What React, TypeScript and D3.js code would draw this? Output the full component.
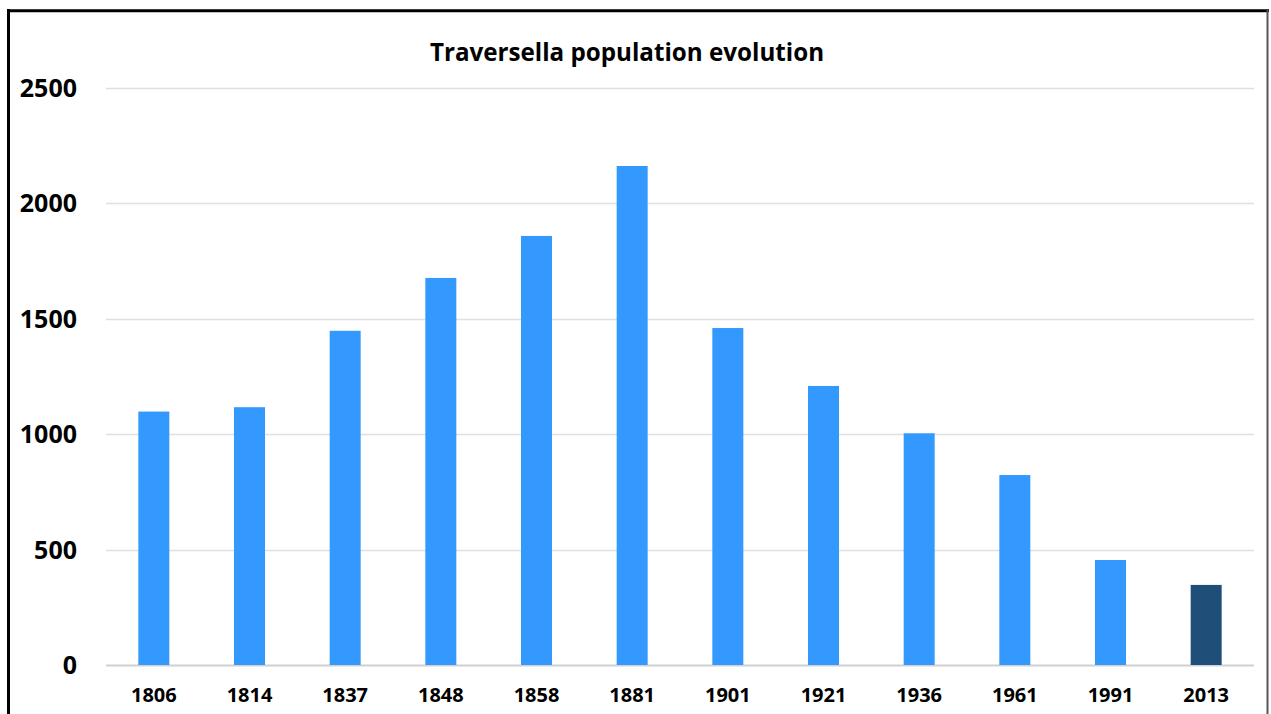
import * as d3 from "d3";
import { useEffect, useRef } from "react";

const YEARS = ["1806", "1814", "1837", "1848", "1858", "1881", "1901", "1921", "1936", "1961", "1991", "2013"];
const POPULATION = [1098, 1117, 1448, 1677, 1859, 2162, 1460, 1209, 1004, 823, 455, 347];
const Y_TICKS = [0, 500, 1000, 1500, 2000, 2500];
const TITLE = "Traversella population evolution";

const WIDTH = 1271;
const HEIGHT = 714;
const FONT = "'Open Sans', 'DejaVu Sans', sans-serif";

export default function App() {
  const svgRef = useRef<SVGSVGElement | null>(null);

  useEffect(() => {
    const margin = { top: 88, right: 17, bottom: 49, left: 106 };
    const innerWidth = WIDTH - margin.left - margin.right;
    const innerHeight = HEIGHT - margin.top - margin.bottom;

    const x = d3
      .scaleBand()
      .domain(YEARS)
      .range([0, innerWidth])
      .paddingInner(0.676)
      .paddingOuter(0.338);

    const y = d3.scaleLinear().domain([0, 2500]).range([innerHeight, 0]);

    const svg = d3.select(svgRef.current);
    svg.selectAll("*").remove();
    svg.attr("width", WIDTH).attr("height", HEIGHT);

    svg.append("rect").attr("width", WIDTH).attr("height", HEIGHT).attr("fill", "#fff");

    // frame (bottom edge is cut off in the picture)
    svg.append("line")
      .attr("x1", 8.5).attr("x2", 8.5).attr("y1", 9).attr("y2", HEIGHT + 5)
      .attr("stroke", "#000").attr("stroke-width", 3);
    svg.append("line")
      .attr("x1", 7).attr("x2", 1269).attr("y1", 10.8).attr("y2", 10.8)
      .attr("stroke", "#000").attr("stroke-width", 3);
    svg.append("line")
      .attr("x1", 1267.5).attr("x2", 1267.5).attr("y1", 10).attr("y2", HEIGHT + 5)
      .attr("stroke", "#555").attr("stroke-width", 2);

    svg.append("text")
      .attr("x", 627)
      .attr("y", 61)
      .attr("text-anchor", "middle")
      .attr("font-family", FONT)
      .attr("font-weight", 700)
      .attr("font-size", 24.2)
      .attr("fill", "#000")
      .text(TITLE);

    const g = svg.append("g").attr("transform", `translate(${margin.left},${margin.top})`);

    // Gridlines
    g.append("g")
      .selectAll("line")
      .data(Y_TICKS)
      .enter()
      .append("line")
      .attr("x1", 0)
      .attr("x2", innerWidth)
      .attr("y1", d => Math.round(y(d)) + 0.5)
      .attr("y2", d => Math.round(y(d)) + 0.5)
      .attr("stroke", d => (d === 0 ? "#d0d0d0" : "#e0e0e0"))
      .attr("stroke-width", d => (d === 0 ? 2 : 1.3));

    // Y Axis labels
    g.append("g")
      .selectAll("text")
      .data(Y_TICKS)
      .enter()
      .append("text")
      .attr("x", -29)
      .attr("y", d => y(d))
      .attr("dy", "0.36em")
      .attr("text-anchor", "end")
      .attr("font-family", FONT)
      .attr("font-weight", 700)
      .attr("font-size", 25)
      .attr("fill", "#000")
      .text(d => String(d));

    // bars
    g.append("g")
      .selectAll("rect")
      .data(POPULATION)
      .enter()
      .append("rect")
      .attr("x", (_, i) => x(YEARS[i])!)
      .attr("y", d => y(d))
      .attr("width", x.bandwidth())
      .attr("height", d => innerHeight - y(d))
      .attr("fill", (_, i) => (i === YEARS.length - 1 ? "#1f4e79" : "#3399ff"));

    // X Axis labels
    g.append("g")
      .selectAll("text")
      .data(YEARS)
      .enter()
      .append("text")
      .attr("x", d => x(d)! + x.bandwidth() / 2)
      .attr("y", innerHeight + 37)
      .attr("text-anchor", "middle")
      .attr("font-family", FONT)
      .attr("font-weight", 700)
      .attr("font-size", 20)
      .attr("fill", "#000")
      .text(d => d);
  }, []);

  return (
    <div style={{ position: "absolute", left: 0, top: 0 }}>
      <svg ref={svgRef} style={{ display: "block" }} />
    </div>
  );
}
